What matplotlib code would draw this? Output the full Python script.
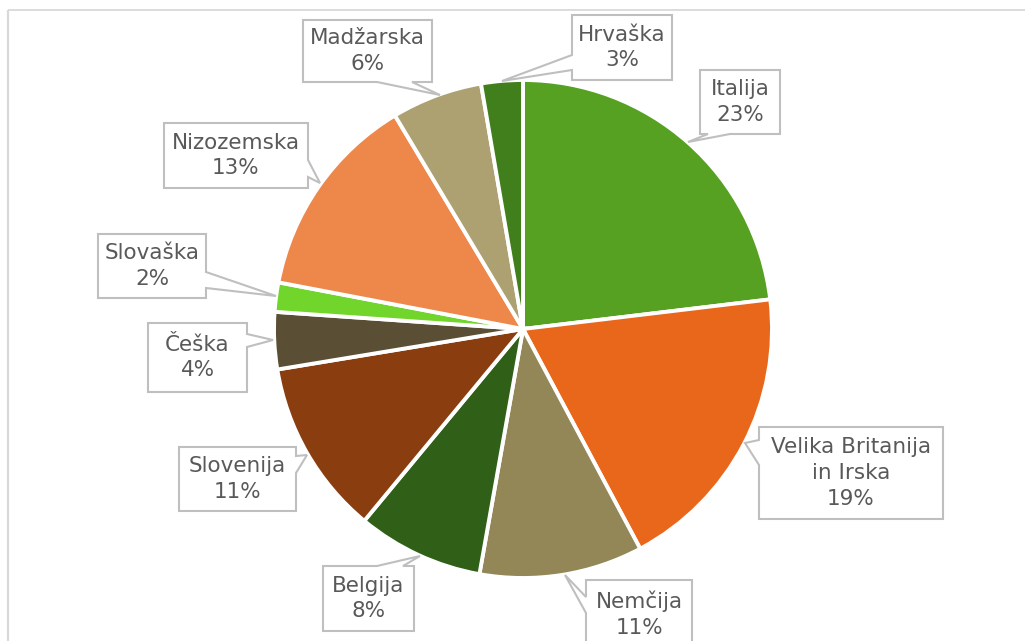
import matplotlib
matplotlib.use("Agg")
import matplotlib.pyplot as plt
from matplotlib.patches import Polygon

# ---- data ----
categories = ["Italija", "Velika Britanija\nin Irska", "Nemčija", "Belgija", "Slovenija",
              "Češka", "Slovaška", "Nizozemska", "Madžarska", "Hrvaška"]
values = [23.1, 19.1, 10.6, 8.2, 11.4, 3.7, 1.9, 13.4, 5.9, 2.7]
pct_labels = ["23%", "19%", "11%", "8%", "11%", "4%", "2%", "13%", "6%", "3%"]
colors = ["#56A022", "#E8671A", "#938757", "#306018", "#8A3D0F",
          "#5A4F35", "#72D52C", "#ED874A", "#ADA171", "#417F1D"]

# ---- layout (pixel coordinates, y measured from top) ----
W, H = 1025, 641
# box: (x0, x1, y0, y1), side of pointer, pointer base (a, b), tip (x, y)
callouts = [
    ((700, 780, 70, 134), "bottom", (708, 730), (688, 142)),
    ((759, 943, 427, 519), "left", (440, 465), (745, 443)),
    ((586, 692, 580, 660), "left", (597, 613), (565, 575)),
    ((323, 414, 566, 631), "top", (377, 403), (420, 556)),
    ((179, 296, 447, 511), "right", (456, 473), (307, 455)),
    ((148, 247, 323, 392), "right", (334, 347), (273, 340)),
    ((98, 206, 234, 298), "right", (272, 288), (276, 296)),
    ((164, 308, 123, 188), "right", (160, 177), (320, 183)),
    ((303, 432, 20, 82), "bottom", (377, 412), (440, 95)),
    ((572, 672, 15, 80), "left", (55, 70), (502, 81)),
]


def Y(py):
    return H - py


fig = plt.figure(figsize=(W / 100, H / 100), dpi=100)
ax = fig.add_axes([0, 0, 1, 1])

ax.pie(values, colors=colors, startangle=90, counterclock=False,
       center=(523, Y(329)), radius=249,
       wedgeprops=dict(edgecolor="white", linewidth=2.8))

ax.set_xlim(0, W)
ax.set_ylim(0, H)
ax.set_aspect("equal")
ax.axis("off")

# chart border (partially visible)
ax.plot([8, W + 10], [Y(10), Y(10)], color="#d9d9d9", lw=1.3,
        solid_capstyle="butt", clip_on=True)
ax.plot([8, 8], [Y(10), Y(H) - 10], color="#d9d9d9", lw=1.6,
        solid_capstyle="butt", clip_on=True)


def callout_poly(box, side, base, tip):
    x0, x1, y0, y1 = box
    a, b = base
    pts = [(x0, y0)]
    if side == "top":
        pts += [(a, y0), tip, (b, y0)]
    pts += [(x1, y0)]
    if side == "right":
        pts += [(x1, a), tip, (x1, b)]
    pts += [(x1, y1)]
    if side == "bottom":
        pts += [(b, y1), tip, (a, y1)]
    pts += [(x0, y1)]
    if side == "left":
        pts += [(x0, b), tip, (x0, a)]
    return [(x, Y(y)) for x, y in pts]


for name, pct, (box, side, base, tip) in zip(categories, pct_labels, callouts):
    poly = Polygon(callout_poly(box, side, base, tip), closed=True,
                   facecolor="white", edgecolor="#bfbfbf", lw=1.5, zorder=5)
    ax.add_patch(poly)
    x0, x1, y0, y1 = box
    if name.startswith("Nemčija"):
        cy = 580 + 34
    else:
        cy = (y0 + y1) / 2
    ax.text((x0 + x1) / 2, Y(cy), f"{name}\n{pct}", ha="center", va="center",
            fontsize=15.5, color="#595959", linespacing=1.35, zorder=6,
            family="DejaVu Sans")

fig.savefig("out.png", dpi=100)
